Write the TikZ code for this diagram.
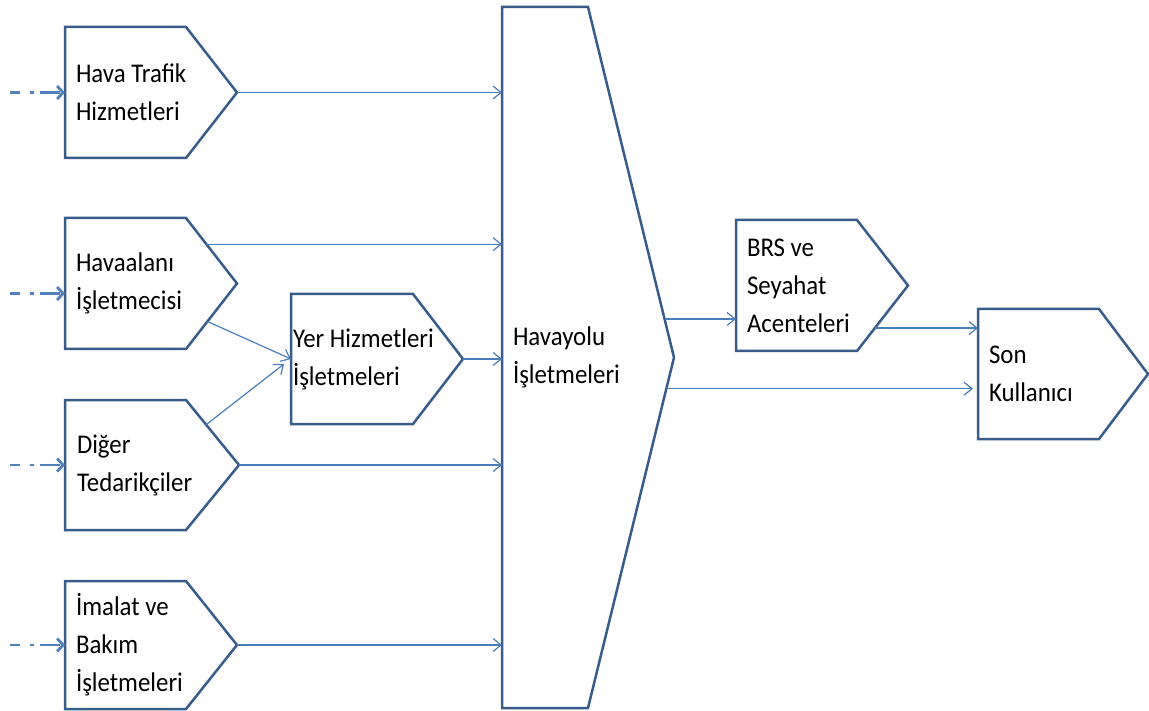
\documentclass[tikz,border=0pt]{standalone}
\usepackage{fontspec}
\setmainfont{Carlito}[FakeStretch=0.92]
\usetikzlibrary{arrows.meta,calc}
\definecolor{rimc}{HTML}{385D8A}
\definecolor{linkc}{HTML}{4A7EBB}
\definecolor{feedc}{HTML}{4F81BD}
\begin{document}
\begin{tikzpicture}[x=1pt,y=-1pt,
  stage/.style={anchor=north west, inner sep=0pt, outer sep=0pt, align=flush left,
    font=\fontsize{27}{38}\selectfont},
  link/.style={draw=linkc, line width=1.2pt,
    -{Straight Barb[length=8pt,width=13pt,line width=1.2pt]}},
  feed/.style={draw=feedc, line width=2.8pt,
    dash pattern=on 10pt off 10pt on 4pt off 6pt on 20pt off 10pt,
    -{Straight Barb[length=6pt,width=13pt]}},
  rim/.style={draw=rimc, line width=2.5pt, line join=miter}]

% canvas
\fill[white] (0,0) rectangle (1149,711);
\useasboundingbox (0,0) rectangle (1149,711);

% stages of the chain
\node[stage, minimum width=172pt, minimum height=131pt, text width=150pt] (hava) at (65,27) {Hava Trafik\\Hizmetleri};
\node[stage, minimum width=172pt, minimum height=131pt, text width=150pt] (ha) at (65,218) {Havaalanı\\İşletmecisi};
\node[stage, minimum width=174pt, minimum height=130pt, text width=150pt] (dt) at (65,400) {Diğer\\Tedarikçiler};
\node[stage, minimum width=172pt, minimum height=128pt, text width=150pt] (im) at (65,581) {İmalat ve\\Bakım\\İşletmeleri};
\node[stage, minimum width=172pt, minimum height=130pt, text width=168pt] (yer) at (291,294) {Yer Hizmetleri\\İşletmeleri};
\node[stage, minimum width=172pt, minimum height=701pt, text width=150pt] (hub) at (502,7) {Havayolu\\İşletmeleri};
\node[stage, minimum width=172pt, minimum height=131pt, text width=150pt] (brs) at (736,220) {BRS ve\\Seyahat\\Acenteleri};
\node[stage, minimum width=170pt, minimum height=130pt, text width=148pt] (son) at (978,309) {Son\\Kullanıcı};

% pentagon outlines pointing east
\foreach \n/\d in {hava/51,ha/51,dt/53,im/51,yer/50,hub/86,brs/51,son/49}
  \draw[rim] (\n.north west) -- ([xshift=-\d pt]\n.north east) -- (\n.east)
    -- ([xshift=-\d pt]\n.south east) -- (\n.south west) -- cycle;

% points on slanted edges
\coordinate (haT) at ($([xshift=-51pt]ha.north east)!0.40!(ha.east)$);
\coordinate (haB) at ($(ha.east)!0.58!([xshift=-51pt]ha.south east)$);
\coordinate (dtT) at ($([xshift=-53pt]dt.north east)!0.38!(dt.east)$);
\coordinate (hubT) at ($([xshift=-86pt]hub.north east)!0.89!(hub.east)$);
\coordinate (hubB) at ($(hub.east)!0.089!([xshift=-86pt]hub.south east)$);
\coordinate (brsB) at ($(brs.east)!0.65!([xshift=-51pt]brs.south east)$);

% flows into the airlines
\draw[link] (hava.east) -- (hava.east -| hub.west);
\draw[link] (haT) -- (haT -| hub.west);
\draw[link] (haB) -- (yer.west);
\draw[link] (dtT) -- ([xshift=-7pt,yshift=-5pt]yer.west);
\draw[link] (yer.east) -- (yer.east -| hub.west);
\draw[link] (dt.east) -- (dt.east -| hub.west);
\draw[link] (im.east) -- (im.east -| hub.west);

% flows towards the end user
\draw[link] (hubT) -- (hubT -| brs.west);
\draw[link] (brsB) -- (brsB -| son.west);
\draw[link] (hubB) -- ([xshift=-5pt]hubB -| son.west);

% external inputs
\coordinate (lm) at (10,0);
\draw[feed] (lm |- hava.west) -- (hava.west);
\draw[feed] ([yshift=-10pt]lm |- ha.west) -- ([yshift=-10pt]ha.west);
\draw[feed] (lm |- dt.west) -- (dt.west);
\draw[feed] (lm |- im.west) -- (im.west);
\end{tikzpicture}
\end{document}
